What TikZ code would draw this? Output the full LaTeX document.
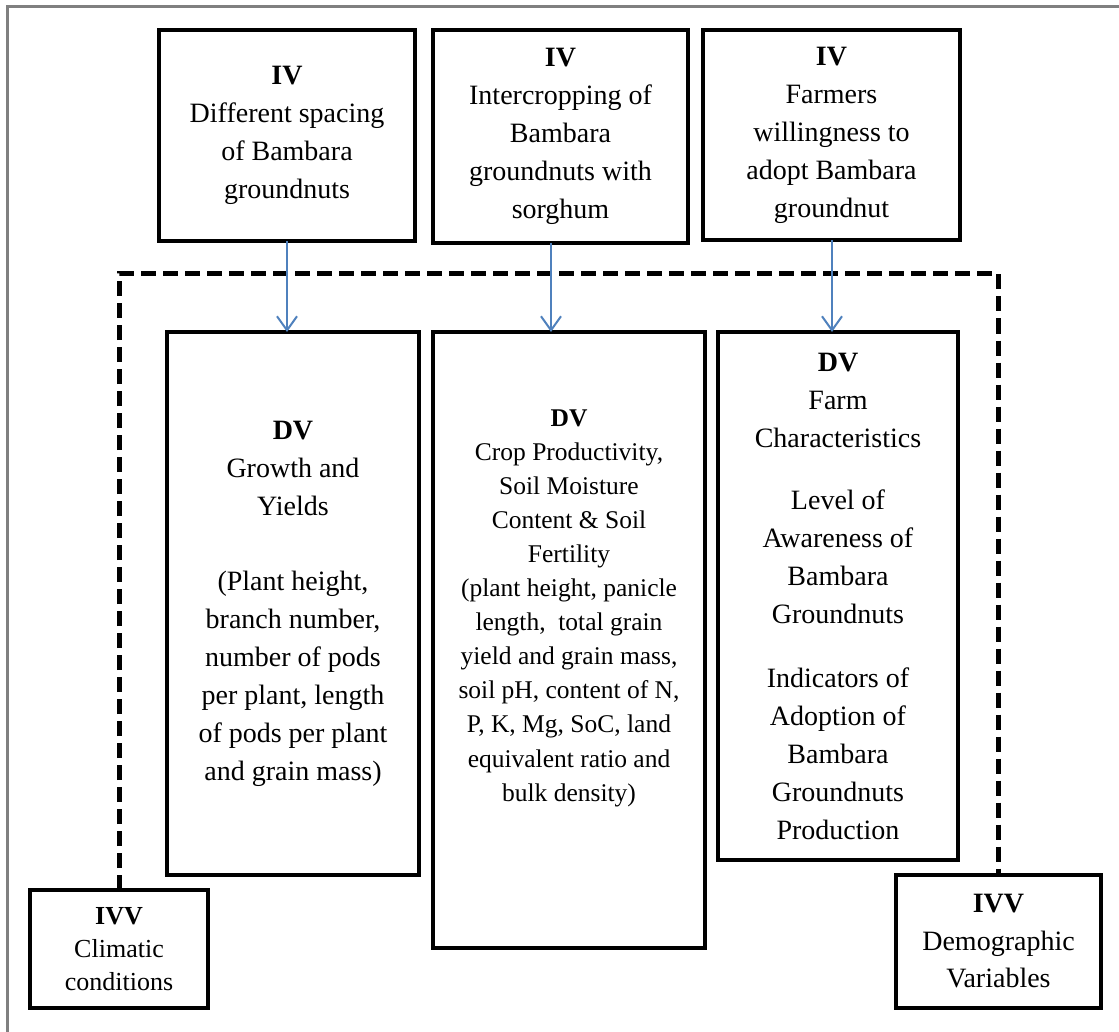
\documentclass[tikz,border=0pt]{standalone}
\usepackage{fontspec}
\setmainfont{Liberation Serif}
\usetikzlibrary{arrows.meta}
\definecolor{arrblue}{RGB}{79,129,189}
\definecolor{framegray}{RGB}{128,128,128}
\begin{document}
\begin{tikzpicture}[x=1pt,y=-1pt,
  box/.style={draw=black, line width=4pt, inner sep=0pt, outer sep=0pt, align=center,
              font=\fontsize{28}{38}\selectfont},
  txt/.style={align=center, inner sep=0pt},
  arr/.style={draw=arrblue, line width=2pt, -{Straight Barb[length=14pt,width=20pt]}},
  dline/.style={draw=black, line width=5pt, dash pattern=on 15pt off 7pt}
]
\useasboundingbox (0,0) rectangle (1119,1032);
\fill[white] (0,0) rectangle (1119,1032);
\draw[framegray, line width=3pt] (7,1040) -- (7,7) -- (1125,7);

% top IV boxes
\node[box, minimum width=256pt, minimum height=211pt] (T1) at (287,135.5)
  {\textbf{IV}\\Different spacing\\of Bambara\\groundnuts};
\node[box, minimum width=255pt, minimum height=213pt] (T2) at (560.5,136.5)
  {\textbf{IV}\\Intercropping of\\Bambara\\groundnuts with\\sorghum};
\node[box, minimum width=257pt, minimum height=210pt] (T3) at (831.5,135)
  {\textbf{IV}\\Farmers\\willingness to\\adopt Bambara\\groundnut};

% DV boxes
\node[box, minimum width=252pt, minimum height=543pt] (D1) at (293,603.5)
  {\textbf{DV}\\Growth and\\Yields\\[37pt](Plant height,\\branch number,\\number of pods\\per plant, length\\of pods per plant\\and grain mass)};
\node[box, minimum width=272pt, minimum height=616pt] (D2) at (569,640) {};
\node[txt, font=\fontsize{25.5}{34.1}\selectfont] (D2t) at (569,608)
  {\textbf{DV}\\Crop Productivity,\\Soil Moisture\\Content \& Soil\\Fertility\\(plant height, panicle\\length,\ \ total grain\\yield and grain mass,\\soil pH, content of N,\\P, K, Mg, SoC, land\\equivalent ratio and\\bulk density)};
\node[box, minimum width=240pt, minimum height=528pt] (D3) at (838,596)
  {\textbf{DV}\\Farm\\Characteristics\\[24pt]Level of\\Awareness of\\Bambara\\Groundnuts\\[26pt]Indicators of\\Adoption of\\Bambara\\Groundnuts\\Production};

% IVV boxes
\node[box, minimum width=178pt, minimum height=118pt, font=\fontsize{26}{33}\selectfont] (C) at (119,949)
  {\textbf{IVV}\\Climatic\\conditions};
\node[box, minimum width=205pt, minimum height=133pt, font=\fontsize{28}{37.5}\selectfont] (Dm) at (998.5,941.5)
  {\textbf{IVV}\\Demographic\\Variables};

% dashed connector
\coordinate (dtop) at (560,274);
\draw[dline] (C.north) |- (dtop) -| (Dm.north);

% arrows
\draw[arr] (T1.south) -- (T1.south |- D1.north);
\draw[arr] ([xshift=-9.5pt]T2.south) -- ([xshift=-9.5pt]T2.south |- D2.north);
\draw[arr] ([xshift=0.5pt]T3.south) -- ([xshift=0.5pt]T3.south |- D3.north);
\end{tikzpicture}
\end{document}
